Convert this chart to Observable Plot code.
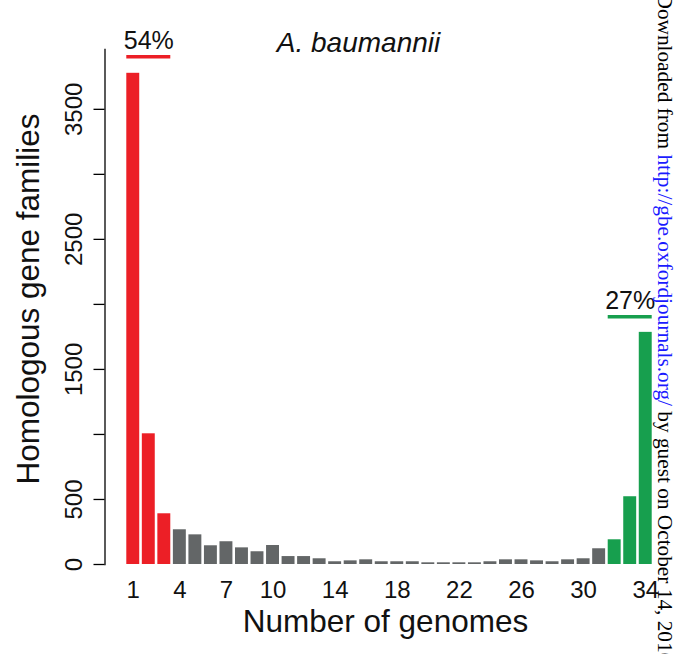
<!DOCTYPE html>
<html>
<head>
<meta charset="utf-8">
<script src="https://cdn.jsdelivr.net/npm/d3@7"></script>
<script src="https://cdn.jsdelivr.net/npm/@observablehq/plot@0.6"></script>
<style>
  body { margin: 0; background: #fff; }
  #chart svg { display: block; }
</style>
</head>
<body>
<div id="chart"></div>
<script>
// ---- data ----
const genomes = [1,2,3,4,5,6,7,8,9,10,11,12,13,14,15,16,17,18,19,20,21,22,23,24,25,26,27,28,29,30,31,32,33,34];
const families = [3777,1005,390,267,228,144,175,128,98,146,61,61,44,21,28,36,21,21,21,13,13,13,13,21,36,36,28,21,36,44,121,190,521,1785];
const groups = ["strain","strain","strain",
  "mid","mid","mid","mid","mid","mid","mid","mid","mid","mid","mid","mid","mid","mid","mid","mid","mid",
  "mid","mid","mid","mid","mid","mid","mid","mid","mid","mid","mid",
  "core","core","core"];
const groupNames = ["strain","mid","core"];
const groupColors = ["#ec1f26","#636667","#179f4e"];
const xTickLabels = [1,4,7,10,14,18,22,26,30,34];
const yTicks = [0,500,1000,1500,2000,2500,3000,3500];
const yTickLabels = [0,500,1500,2500,3500];
const annLabels = ["54%","27%"];
const annFrom = [1,32];
const annTo = [3,34];
const annCenter = [2,33];
const annLevel = [3905,1905];
const annGroup = ["strain","core"];
const title = "A. baumannii";
const xTitle = "Number of genomes";
const yTitle = "Homologous gene families";
const watermarkParts = ["Downloaded from ", "http://gbe.oxfordjournals.org/", " by guest on October 14, 2016"];

// ---- build ----
const data = genomes.map((g, i) => ({g, n: families[i], grp: groups[i]}));
const ann = annLabels.map((t, i) => ({t, from: annFrom[i], to: annTo[i], c: annCenter[i], lvl: annLevel[i], grp: annGroup[i]}));
const colorOf = g => groupColors[groupNames.indexOf(g)];
const sans = "'Liberation Sans', Arial, Helvetica, sans-serif";

const chart = Plot.plot({
  width: 680,
  height: 654,
  marginLeft: 125,
  marginRight: 27,
  marginTop: 49,
  marginBottom: 90,
  style: {fontFamily: sans, background: "#fff", color: "#000"},
  x: {type: "band", domain: genomes, paddingInner: 0.167, paddingOuter: 0.0833, round: false, axis: null},
  y: {domain: [0, 3960], axis: null},
  marks: [
    Plot.barY(data, {x: "g", y: "n", fill: d => colorOf(d.grp)}),
    Plot.frame({anchor: "left", dx: -20.5, stroke: "#000", strokeWidth: 1.3}),
    Plot.axisY({ticks: yTicks, tickSize: 11, tickFormat: () => "", dx: -20.5, stroke: "#000", strokeWidth: 1.3}),
    Plot.text(yTickLabels, {y: d => d, text: d => String(d), frameAnchor: "left", dx: -51, rotate: -90, textAnchor: "middle", fontSize: 24, fill: "#111"}),
    Plot.text(xTickLabels, {x: d => d, text: d => String(d), frameAnchor: "bottom", dy: 33, fontSize: 24, fill: "#111"}),
    Plot.text([xTitle], {text: d => d, frameAnchor: "bottom", dx: -4, dy: 67, fontSize: 31.5, fill: "#111"}),
    Plot.text([yTitle], {text: d => d, frameAnchor: "left", dx: -97, dy: -8, rotate: -90, textAnchor: "middle", fontSize: 31.5, fill: "#111"}),
    Plot.text([title], {text: d => d, frameAnchor: "top", dx: -31, dy: -17, fontSize: 28, fontStyle: "italic", fill: "#111"}),
    Plot.ruleY(ann, {x1: "from", x2: "to", y: "lvl", stroke: d => colorOf(d.grp), strokeWidth: 3.5}),
    Plot.text(ann, {x: "c", y: "lvl", text: "t", dy: -16, fontSize: 25, fill: "#111"}),
    Plot.text([watermarkParts.join("")], {text: d => d, frameAnchor: "top-right", dx: 20, dy: -56, rotate: 90, textAnchor: "start", fontSize: 21.3, fontFamily: "'Liberation Serif', 'DejaVu Serif', serif", fill: "#000"})
  ]
});

// colour the URL part of the watermark
d3.select(chart).selectAll("text").each(function() {
  const el = d3.select(this);
  if (el.text().startsWith("Downloaded")) {
    el.text(null);
    watermarkParts.forEach((p, i) => {
      el.append("tspan").attr("fill", i === 1 ? "#1a1aff" : "#000").text(p);
    });
  }
});

document.getElementById("chart").appendChild(chart);
</script>
</body>
</html>
